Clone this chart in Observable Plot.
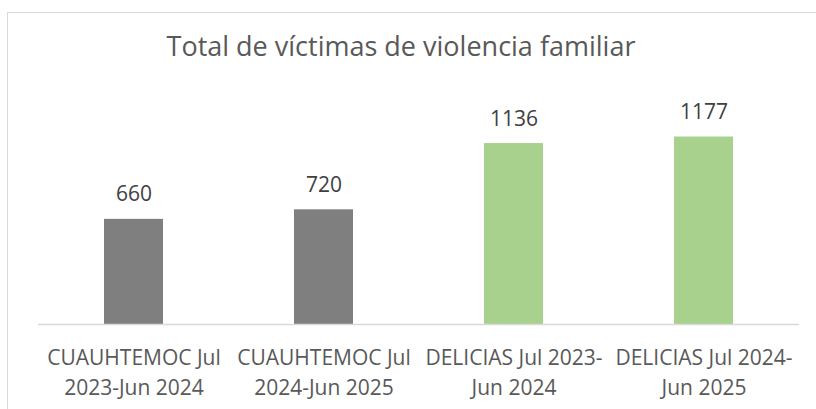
<!DOCTYPE html>
<html>
<head>
<meta charset="utf-8">
<script src="https://cdn.jsdelivr.net/npm/d3@7"></script>
<script src="https://cdn.jsdelivr.net/npm/@observablehq/plot@0.6"></script>
<style>
  html, body { margin: 0; padding: 0; background: #fff; overflow: hidden; }
  #wrap { position: relative; width: 816px; height: 409px; overflow: hidden; font-family: "Open Sans", sans-serif; }
  #frame { position: absolute; left: 7px; top: 12px; width: 900px; height: 500px; border: 1px solid #d9d9d9; box-sizing: border-box; }
  #title { position: absolute; left: 0; width: 802px; top: 32px; text-align: center; font-size: 27px; color: #595959; line-height: 1; white-space: nowrap; }
  #chart { position: absolute; left: 0; top: 0; }
</style>
</head>
<body>
<div id="wrap">
  <div id="frame"></div>
  <div id="title">Total de víctimas de violencia familiar</div>
  <div id="chart"></div>
</div>
<script>
const categories = [
  "CUAUHTEMOC Jul 2023-Jun 2024",
  "CUAUHTEMOC Jul 2024-Jun 2025",
  "DELICIAS Jul 2023-Jun 2024",
  "DELICIAS Jul 2024-Jun 2025"
];
const tickLabels = [
  "CUAUHTEMOC Jul\n2023-Jun 2024",
  "CUAUHTEMOC Jul\n2024-Jun 2025",
  "DELICIAS Jul 2023-\nJun 2024",
  "DELICIAS Jul 2024-\nJun 2025"
];
const values = [660, 720, 1136, 1177];
const groups = ["CUAUHTEMOC", "CUAUHTEMOC", "DELICIAS", "DELICIAS"];
const groupColors = { CUAUHTEMOC: "#7f7f7f", DELICIAS: "#a9d18e" };

const data = categories.map((c, i) => ({ cat: c, value: values[i], group: groups[i], label: tickLabels[i] }));

const chart = Plot.plot({
  width: 816,
  height: 409,
  marginLeft: 38,
  marginRight: 17,
  marginTop: 101,
  marginBottom: 85,
  style: { fontFamily: "Open Sans, sans-serif", background: "transparent", overflow: "visible" },
  x: { domain: categories, paddingInner: 0.69, paddingOuter: 0.345 },
  y: { domain: [0, 1400] },
  marks: [
    Plot.barY(data, { x: "cat", y: "value", fill: d => groupColors[d.group] }),
    Plot.ruleY([0], { stroke: "#d9d9d9", strokeWidth: 1.5 }),
    Plot.text(data, { x: "cat", y: "value", text: d => String(d.value), lineAnchor: "bottom", dy: -18, fontSize: 21, fill: "#404040" }),
    Plot.axisX({ tickSize: 0, tickPadding: 19, tickFormat: (d) => tickLabels[categories.indexOf(d)], fontSize: 21, lineHeight: 1.43, fill: "#595959", label: null }),
    Plot.axisY({ ticks: [], tickSize: 0, label: null, tickFormat: () => "" })
  ]
});
document.getElementById("chart").appendChild(chart);
</script>
</body>
</html>
